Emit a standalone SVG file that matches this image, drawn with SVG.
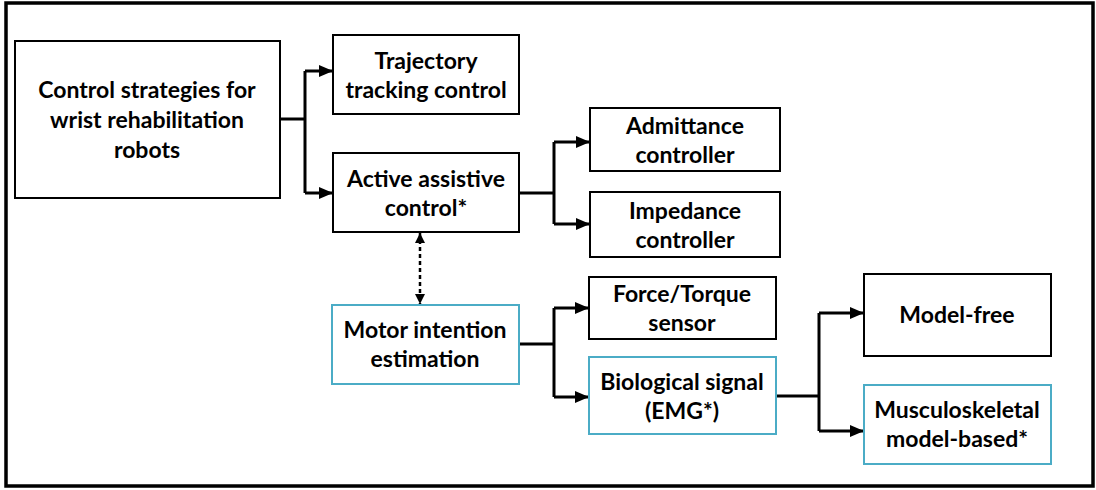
<svg xmlns="http://www.w3.org/2000/svg" width="1096" height="490" viewBox="0 0 1096 490">
<style>
.box{fill:#fff;stroke:#000;stroke-width:2}
.blue{fill:#fff;stroke:#4bacc6;stroke-width:2}
.t{font-family:Lato,"Open Sans","Liberation Sans",sans-serif;font-weight:bold;font-size:23px;fill:#000;text-anchor:middle}
.c{fill:none;stroke:#000;stroke-width:3}
.d{fill:none;stroke:#000;stroke-width:2.5;stroke-dasharray:4 3}
</style>
<defs>
<marker id="ah" markerUnits="userSpaceOnUse" markerWidth="16" markerHeight="12" refX="14" refY="6" orient="auto">
<path d="M0,0 L14,6 L0,12 Z" fill="#000"/>
</marker>
<marker id="ahs" markerUnits="userSpaceOnUse" markerWidth="12" markerHeight="10" refX="10" refY="5" orient="auto-start-reverse">
<path d="M0,0 L10,5 L0,10 Z" fill="#000"/>
</marker>
</defs>
<rect x="0" y="0" width="1096" height="490" fill="#fff"/>
<rect x="6" y="3" width="1087" height="483" fill="none" stroke="#000" stroke-width="3.5"/>
<g id="connectors">
<path class="c" d="M280,119 H305"/>
<path class="c" d="M305,71 V193"/>
<path class="c" d="M305,71 H333" marker-end="url(#ah)"/>
<path class="c" d="M305,193 H333" marker-end="url(#ah)"/>
<path class="c" d="M519,193 H554"/>
<path class="c" d="M554,142 V224"/>
<path class="c" d="M554,142 H590" marker-end="url(#ah)"/>
<path class="c" d="M554,224 H590" marker-end="url(#ah)"/>
<path class="d" d="M420,233 V304" marker-start="url(#ahs)" marker-end="url(#ahs)"/>
<path class="c" d="M519,344 H554"/>
<path class="c" d="M554,308 V397"/>
<path class="c" d="M554,308 H589" marker-end="url(#ah)"/>
<path class="c" d="M554,397 H589" marker-end="url(#ah)"/>
<path class="c" d="M776,396 H819"/>
<path class="c" d="M819,313 V431"/>
<path class="c" d="M819,313 H864" marker-end="url(#ah)"/>
<path class="c" d="M819,431 H864" marker-end="url(#ah)"/>
</g>
<g id="root">
<rect class="box" x="15" y="41" width="265" height="157"/>
<text class="t" x="147" y="98">Control strategies for</text>
<text class="t" x="147" y="128">wrist rehabilitation</text>
<text class="t" x="147" y="158">robots</text>
</g>
<g id="trajectory">
<rect class="box" x="333" y="35" width="186" height="79"/>
<text class="t" x="426" y="69">Trajectory</text>
<text class="t" x="426" y="98">tracking control</text>
</g>
<g id="active">
<rect class="box" x="333" y="153" width="186" height="79"/>
<text class="t" x="426" y="187">Active assistive</text>
<text class="t" x="426" y="216">control*</text>
</g>
<g id="admittance">
<rect class="box" x="590" y="108" width="190" height="63"/>
<text class="t" x="685" y="134">Admittance</text>
<text class="t" x="685" y="163">controller</text>
</g>
<g id="impedance">
<rect class="box" x="590" y="192" width="190" height="65"/>
<text class="t" x="685" y="219">Impedance</text>
<text class="t" x="685" y="248">controller</text>
</g>
<g id="force">
<rect class="box" x="589" y="277" width="187" height="62"/>
<text class="t" x="682" y="302">Force/Torque</text>
<text class="t" x="682" y="331">sensor</text>
</g>
<g id="motor">
<rect class="blue" x="332" y="305" width="187" height="79"/>
<text class="t" x="425" y="338">Motor intention</text>
<text class="t" x="425" y="367">estimation</text>
</g>
<g id="biological">
<rect class="blue" x="589" y="357" width="187" height="77"/>
<text class="t" x="682" y="390">Biological signal</text>
<text class="t" x="682" y="419">(EMG*)</text>
</g>
<g id="modelfree">
<rect class="box" x="864" y="274" width="187" height="82"/>
<text class="t" x="957" y="323">Model-free</text>
</g>
<g id="musculo">
<rect class="blue" x="864" y="385" width="187" height="79"/>
<text class="t" x="957" y="418">Musculoskeletal</text>
<text class="t" x="957" y="447">model-based*</text>
</g>
</svg>
